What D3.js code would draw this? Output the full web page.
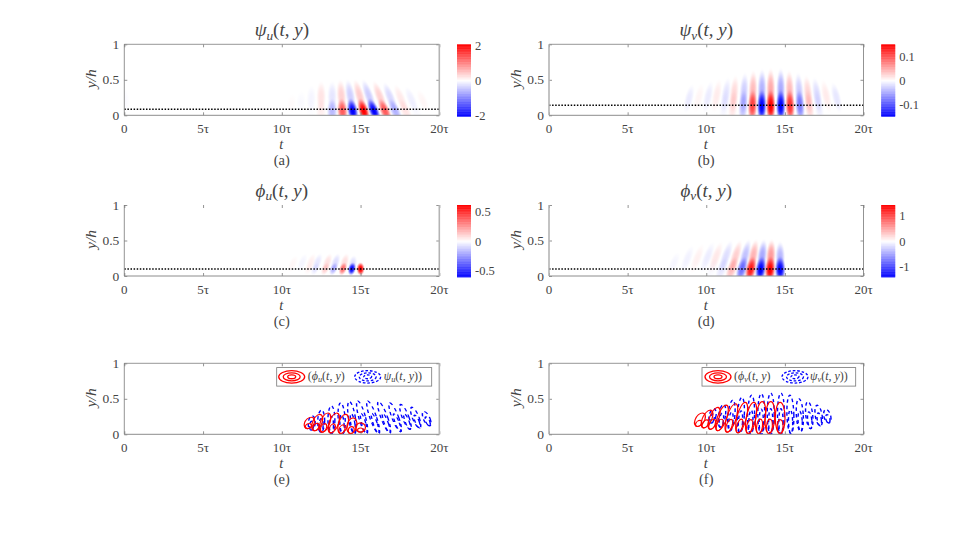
<!DOCTYPE html>
<html><head><meta charset="utf-8">
<script src="https://cdn.jsdelivr.net/npm/d3@7"></script>
<style>
html,body{margin:0;padding:0;background:#fff}
svg{display:block}
text{font-family:"Liberation Serif","DejaVu Serif",serif;fill:#444}
</style></head><body><svg id="c" width="955" height="533"></svg>
<script>
// Tick labels
const xTickValues=[0,5,10,15,20];
const xTickLabels=["0","5τ","10τ","15τ","20τ"];
const yTickValues=[0,0.5,1];
const yTickLabels=["0","0.5","1"];

// Wave lobes: time of the lobe, near-wall amplitude,
// amplitude of the upper tail, top of the tail (y/h), lean of the tail (dt per unit y)
const psiU_t   =[0.1,10.6,11.2,11.85,12.5,13.2,13.85,14.5,15.2,15.85,16.55,17.2,17.85,18.5,19.2];
const psiU_amp =[0,0,0,-0.02,0.12,-0.55,1.3,-2.05,2.05,-2.05,1.3,-0.6,0.2,-0.04,0];
const psiU_tail=[-0.04,0.03,-0.04,-0.08,0.22,-0.2,0.36,-0.38,0.4,-0.4,0.36,-0.3,0.17,-0.12,0.07];
const psiU_top =[0.42,0.32,0.36,0.44,0.5,0.5,0.52,0.52,0.52,0.52,0.5,0.48,0.45,0.42,0.38];
const psiU_lean=[-0.5,0.3,0.2,0.1,0,0,-0.3,-0.7,-1.2,-1.5,-1.6,-1.65,-1.65,-1.65,-1.65];

const psiV_t   =[8.8,9.4,10.0,10.55,11.15,11.7,12.35,12.94,13.53,14.1,14.74,15.33,15.96,16.55,17.15,17.75,18.4];
const psiV_amp =[0,0,0,0,-0.006,0.015,-0.04,0.105,-0.15,0.155,-0.155,0.115,-0.07,0.025,-0.01,0,0];
const psiV_tail=[-0.012,0.006,-0.011,0.011,-0.016,0.022,-0.028,0.04,-0.045,0.05,-0.05,0.04,-0.03,0.024,-0.02,0.012,-0.014];
const psiV_top =[0.45,0.47,0.5,0.53,0.55,0.58,0.62,0.65,0.67,0.68,0.68,0.65,0.62,0.58,0.55,0.52,0.48];
const psiV_lean=[1.0,1.0,0.9,0.75,0.6,0.4,0.25,0.12,0.05,0,0,-0.12,-0.25,-0.45,-0.65,-0.85,-1.0];

const phiU_t   =[10.6,11.17,11.7,12.12,12.76,13.29,13.88,14.45,15.0];
const phiU_amp =[0,0,0.02,-0.05,0.1,-0.17,0.32,-0.6,0.62];
const phiU_tail=[0.02,-0.025,0.04,-0.055,0.07,-0.08,0.08,-0.08,0];
const phiU_top =[0.3,0.33,0.33,0.33,0.33,0.33,0.33,0.3,0.2];
const phiU_lean=[1.5,1.5,1.5,1.5,1.4,1.3,1.1,0.7,0];

const phiV_t   =[7.8,8.55,9.17,9.8,10.35,10.98,11.62,12.26,12.83,13.46,14.06,14.7];
const phiV_amp =[0,0,0,0,-0.03,-0.12,0.35,-0.75,1.25,-1.42,1.42,-1.42];
const phiV_tail=[-0.05,-0.07,0.08,-0.1,0.13,-0.18,0.26,-0.34,0.42,-0.48,0.55,-0.4];
const phiV_top =[0.35,0.45,0.47,0.5,0.5,0.52,0.52,0.53,0.53,0.53,0.53,0.5];
const phiV_lean=[1.6,1.6,1.6,1.6,1.5,1.45,1.3,1.05,0.8,0.5,0.25,0];

// Dotted line height and colour limits
const psiU_line=0.085, psiV_line=0.14, phiU_line=0.1, phiV_line=0.1;
const psiU_clim=2.05, psiV_clim=0.15, phiU_clim=0.62, phiV_clim=1.42;
const psiU_cbTicks=[2,0,-2], psiV_cbTicks=[0.1,0,-0.1], phiU_cbTicks=[0.5,0,-0.5], phiV_cbTicks=[1,0,-1];

// Contour lobes (e), (f): centre time, bottom and top (y/h), lean
const cPsiU_t  =[11.9,12.5,13.15,13.8,14.45,15.1,15.8,16.5,17.2,17.85,18.5,19.2];
const cPsiU_top=[0.26,0.34,0.4,0.44,0.46,0.47,0.47,0.46,0.44,0.42,0.38,0.32];
const cPsiU_bot=[0.06,0.03,0.01,0.01,0.01,0.01,0.01,0.02,0.04,0.07,0.09,0.12];
const cPsiU_lean=[0.3,0.1,0,-0.3,-0.7,-1.2,-1.5,-1.6,-1.65,-1.65,-1.65,-1.65];
const cPhiU_t  =[11.75,12.25,12.75,13.3,13.9,14.45,15.0];
const cPhiU_top=[0.24,0.28,0.3,0.3,0.28,0.23,0.16];
const cPhiU_bot=[0.08,0.05,0.03,0.02,0.01,0.01,0.03];
const cPhiU_lean=[1.4,1.4,1.3,1.3,1.1,0.7,0.1];

const cPsiV_t  =[10.4,11.0,11.6,12.2,12.85,13.5,14.1,14.75,15.35,15.95,16.55,17.15,17.7];
const cPsiV_top=[0.36,0.42,0.48,0.52,0.55,0.57,0.58,0.58,0.55,0.5,0.46,0.41,0.35];
const cPsiV_bot=[0.16,0.1,0.05,0.02,0,0,0,0,0.01,0.04,0.08,0.12,0.16];
const cPsiV_lean=[0.75,0.6,0.4,0.25,0.12,0,0,0,-0.12,-0.25,-0.45,-0.65,-0.85];
const cPhiV_t  =[9.6,10.05,10.5,11.0,11.6,12.25,12.85,13.45,14.05,14.7];
const cPhiV_top=[0.3,0.34,0.38,0.41,0.43,0.45,0.45,0.46,0.46,0.45];
const cPhiV_bot=[0.11,0.09,0.07,0.05,0.03,0.02,0.01,0.01,0.01,0.01];
const cPhiV_lean=[1.6,1.6,1.5,1.45,1.3,1.05,0.8,0.5,0.25,0];

const svg=d3.select("#c");
const defs=svg.append("defs");
const RED="#ff0000",BLUE="#0000ff";
const cmapT=d3.scaleLinear().domain([-1,0,1]).range([BLUE,"#ffffff",RED]);
[["gr",RED],["gb",BLUE]].forEach(([id,c])=>{
  const g=defs.append("radialGradient").attr("id",id);
  d3.range(0,1.001,0.1).forEach(r=>{
    const q=Math.cos(Math.PI/2*Math.pow(r,1.4));
    g.append("stop").attr("offset",r).attr("stop-color",c).attr("stop-opacity",r>=1?0:q*q);
  });
});

function sub(sel,base,s,rest){
  const t=sel;
  t.append("tspan").attr("font-style","italic").text(base);
  t.append("tspan").attr("font-style","italic").attr("font-size","0.7em").attr("dy","0.25em").text(s);
  t.append("tspan").attr("dy","-0.175em").text("(");
  t.append("tspan").attr("font-style","italic").text("t");
  t.append("tspan").text(", ");
  t.append("tspan").attr("font-style","italic").text("y");
  t.append("tspan").text(rest);
}

function frame(id,L,T,o){
  const W=o.w||315,H=71;
  const g=svg.append("g").attr("class","panel-"+id);
  const x=d3.scaleLinear().domain([0,20]).range([L,L+W]);
  const y=d3.scaleLinear().domain([0,1]).range([T+H,T]);
  const clip=defs.append("clipPath").attr("id","clip"+id);
  clip.append("rect").attr("x",L).attr("y",T).attr("width",W).attr("height",H);
  const plot=g.append("g").attr("clip-path",`url(#clip${id})`);
  const line=(x1,y1,x2,y2,c,w)=>g.append("line").attr("x1",x1).attr("y1",y1).attr("x2",x2).attr("y2",y2).attr("stroke",c).attr("stroke-width",w);
  o.plot=plot;
  o.after=()=>{
    const axis=(gen,tx,ty)=>{
      const a=g.append("g").attr("transform",`translate(${tx},${ty})`).call(gen);
      a.select(".domain").remove();
      a.selectAll(".tick line").attr("stroke","#666").attr("stroke-width",0.7);
      a.selectAll("text").remove();
      return a;
    };
    axis(d3.axisBottom(x).tickValues(xTickValues).tickSize(-3),0,T+H);
    axis(d3.axisTop(x).tickValues(xTickValues).tickSize(-3),0,T);
    axis(d3.axisLeft(y).tickValues(yTickValues).tickSize(-3),L,0);
    axis(d3.axisRight(y).tickValues(yTickValues).tickSize(-3),L+W,0);
    line(L,T+H,L+W,T+H,"#8c8c8c",1);
    if(o.topLine) line(L,T,L+W,T,"#8c8c8c",0.9);
    const side=o.thick==="right";
    line(L,T,L,T+H,side?"#777":"#b4b4b4",side?0.8:1.6);
    line(L+W,T,L+W,T+H,side?"#b4b4b4":"#777",side?1.6:0.8);
    g.selectAll(".xl").data(xTickValues).join("text").attr("class","xl")
      .attr("x",d=>x(d)).attr("y",T+H+17.5).attr("text-anchor","middle").attr("font-size",13)
      .text((d,i)=>xTickLabels[i]);
    g.selectAll(".yl").data(yTickValues).join("text").attr("class","yl")
      .attr("x",L-5).attr("y",d=>y(d)+4.5).attr("text-anchor","end").attr("font-size",13.5)
      .text((d,i)=>yTickLabels[i]);
    g.append("text").attr("x",(L+L+W)/2-0.5).attr("y",T+H+33.5).attr("text-anchor","middle")
      .attr("font-size",14.5).attr("font-style","italic").text("t");
    g.append("text").attr("transform",`translate(${L-28},${T+H/2-1}) rotate(-90)`).attr("text-anchor","middle")
      .attr("font-size",15.5).attr("font-style","italic").text("y/h");
    g.append("text").attr("x",(L+L+W)/2).attr("y",T+H+50).attr("text-anchor","middle")
      .attr("font-size",14.5).text(`(${id})`);
  };
  return {g,x,y,plot,L,T,W,H};
}

function blob(p,t,yc,rt,ry,lean,yAnchor,val,clim){
  if(!val) return;
  const {x,y,plot}=p;
  const k=(x(lean)-x(0))/(y(1)-y(0));
  const cx=x(t+lean*(yc-yAnchor)),cy=y(yc);
  plot.append("ellipse").attr("rx",x(rt)-x(0)).attr("ry",y(0)-y(ry))
    .attr("transform",`matrix(1,0,${k},1,${cx},${cy})`)
    .attr("fill",`url(#${val>0?"gr":"gb"})`).attr("fill-opacity",Math.min(1,Math.abs(val)/clim));
}

function heat(id,L,T,o){
  const p=frame(id,L,T,o);
  o.t.forEach((t,i)=>{
    const top=o.top[i],bot=o.tailBot;
    blob(p,t,(top+bot)/2,o.tr,(top-bot)/2,o.lean[i],o.core,o.tail[i],o.clim);
  });
  o.t.forEach((t,i)=>{
    blob(p,t,o.core,o.rt,o.coreH,o.lean[i],o.core,o.amp[i],o.clim);
  });
  p.plot.append("line").attr("x1",p.x(0)).attr("x2",p.x(20)).attr("y1",p.y(o.line)).attr("y2",p.y(o.line))
    .attr("stroke","#000").attr("stroke-width",1.5).attr("stroke-dasharray","1.5,1.6");
  o.after();
  const cx=L+o.w+18-0.3,cw=14;
  const cy=d3.scaleLinear().domain([-o.clim,o.clim]).range([T+72,T]);
  p.g.selectAll(".cb").data(d3.range(-1,1,0.02)).join("rect").attr("class","cb")
    .attr("x",cx).attr("width",cw).attr("y",d=>cy((d+0.02)*o.clim)).attr("height",d=>cy(d*o.clim)-cy((d+0.02)*o.clim)+0.4)
    .attr("fill",d=>cmapT(d+0.01));
  const a=p.g.append("g").attr("transform",`translate(${cx+cw},0)`).call(d3.axisRight(cy).tickValues(o.cbTicks).tickSize(0));
  a.select(".domain").remove();
  a.selectAll("text").attr("font-size",12.5).attr("font-family",'"Liberation Serif"').attr("x",4)
   .attr("fill","#444").text(d=>d3.format("")(d).replace("−","-"));
  const ti=p.g.append("text").attr("x",L+o.w/2).attr("y",T-8).attr("text-anchor","middle").attr("font-size",19);
  sub(ti,o.tb,o.ts,")");
}

function contourLobes(p,ts,tops,bots,leans,color,dash,rt,innerTop,sw){
  const {x,y,plot}=p;
  const gg=plot.append("g").attr("fill","none").attr("stroke",color).attr("stroke-width",sw);
  if(dash) gg.attr("stroke-dasharray",dash);
  ts.forEach((t,i)=>{
    const yc=(tops[i]+bots[i])/2,ry=(tops[i]-bots[i])/2;
    const k=(x(leans[i])-x(0))/(y(1)-y(0));
    gg.append("ellipse").attr("rx",x(rt)-x(0)).attr("ry",y(0)-y(ry))
      .attr("transform",`matrix(1,0,${k},1,${x(t)},${y(yc)})`);
    const ic=bots[i]+(tops[i]-bots[i])*innerTop/2, ir=(tops[i]-bots[i])*innerTop/2;
    gg.append("ellipse").attr("rx",(x(rt)-x(0))*0.6).attr("ry",y(0)-y(ir))
      .attr("transform",`matrix(1,0,${k},1,${x(t-(yc-ic)*leans[i])},${y(ic)})`);
  });
}

function contourPanel(id,L,T,o){
  const p=frame(id,L,T,o);
  contourLobes(p,o.bt,o.btop,o.bbot,o.blean,BLUE,"3.4,3",0.22,0.62,1.4);
  contourLobes(p,o.rt,o.rtop,o.rbot,o.rlean,RED,null,0.31,0.45,1.2);
  o.after();
  const lx=o.lx,ly=T+4.3,lw=o.lw,lh=18.5;
  p.g.append("rect").attr("x",lx).attr("y",ly).attr("width",lw).attr("height",lh).attr("fill","#fff").attr("stroke","#777").attr("stroke-width",0.8);
  const cyy=ly+lh/2;
  const icon=(cx,c,dash)=>{
    const ic=p.g.append("g").attr("fill","none").attr("stroke",c).attr("stroke-width",1.3);
    if(dash) ic.attr("stroke-dasharray",dash);
    [[13,6.2],[8.5,4],[4,1.9]].forEach(([a,b])=>ic.append("ellipse").attr("cx",cx).attr("cy",cyy).attr("rx",a).attr("ry",b));
  };
  icon(lx+o.i1,RED,null);
  icon(lx+o.i2,BLUE,"2.6,1.8");
  const t1=p.g.append("text").attr("x",lx+o.t1).attr("y",cyy+3.5).attr("font-size",12);
  t1.append("tspan").text("(");
  sub(t1,o.rb,o.s,")");
  const t2=p.g.append("text").attr("x",lx+o.t2).attr("y",cyy+3.5).attr("font-size",12);
  sub(t2,o.bb,o.s,"))");
}

heat("a",124.3,44.3,{w:315,t:psiU_t,amp:psiU_amp,tail:psiU_tail,top:psiU_top,lean:psiU_lean,clim:psiU_clim,line:psiU_line,cbTicks:psiU_cbTicks,core:0.06,coreH:0.19,tailBot:0.02,rt:0.38,tr:0.34,tb:"ψ",ts:"u",thick:"right",topLine:true});
heat("b",549,44.3,{w:314.5,t:psiV_t,amp:psiV_amp,tail:psiV_tail,top:psiV_top,lean:psiV_lean,clim:psiV_clim,line:psiV_line,cbTicks:psiV_cbTicks,core:0.13,coreH:0.25,tailBot:0.02,rt:0.34,tr:0.32,tb:"ψ",ts:"v",thick:"left",topLine:true});
heat("c",124.3,205,{w:315,t:phiU_t,amp:phiU_amp,tail:phiU_tail,top:phiU_top,lean:phiU_lean,clim:phiU_clim,line:phiU_line,cbTicks:phiU_cbTicks,core:0.1,coreH:0.1,rt:0.28,tailBot:0.04,tr:0.3,tb:"ϕ",ts:"u",thick:"right"});
heat("d",549,205,{w:314.5,t:phiV_t,amp:phiV_amp,tail:phiV_tail,top:phiV_top,lean:phiV_lean,clim:phiV_clim,line:phiV_line,cbTicks:phiV_cbTicks,core:0.09,coreH:0.2,rt:0.38,tailBot:0.02,tr:0.34,tb:"ϕ",ts:"v",thick:"left"});
contourPanel("e",124.3,363.3,{w:315,bt:cPsiU_t,btop:cPsiU_top,bbot:cPsiU_bot,blean:cPsiU_lean,rt:cPhiU_t,rtop:cPhiU_top,rbot:cPhiU_bot,rlean:cPhiU_lean,thick:"right",topLine:true,lx:276.7,lw:155,i1:15,i2:91,t1:31,t2:107,rb:"ϕ",bb:"ψ",s:"u"});
contourPanel("f",549,363.3,{w:314.5,bt:cPsiV_t,btop:cPsiV_top,bbot:cPsiV_bot,blean:cPsiV_lean,rt:cPhiV_t,rtop:cPhiV_top,rbot:cPhiV_bot,rlean:cPhiV_lean,thick:"left",topLine:true,lx:702,lw:153.7,i1:16,i2:93,t1:32,t2:108,rb:"ϕ",bb:"ψ",s:"v"});
</script></body></html>
